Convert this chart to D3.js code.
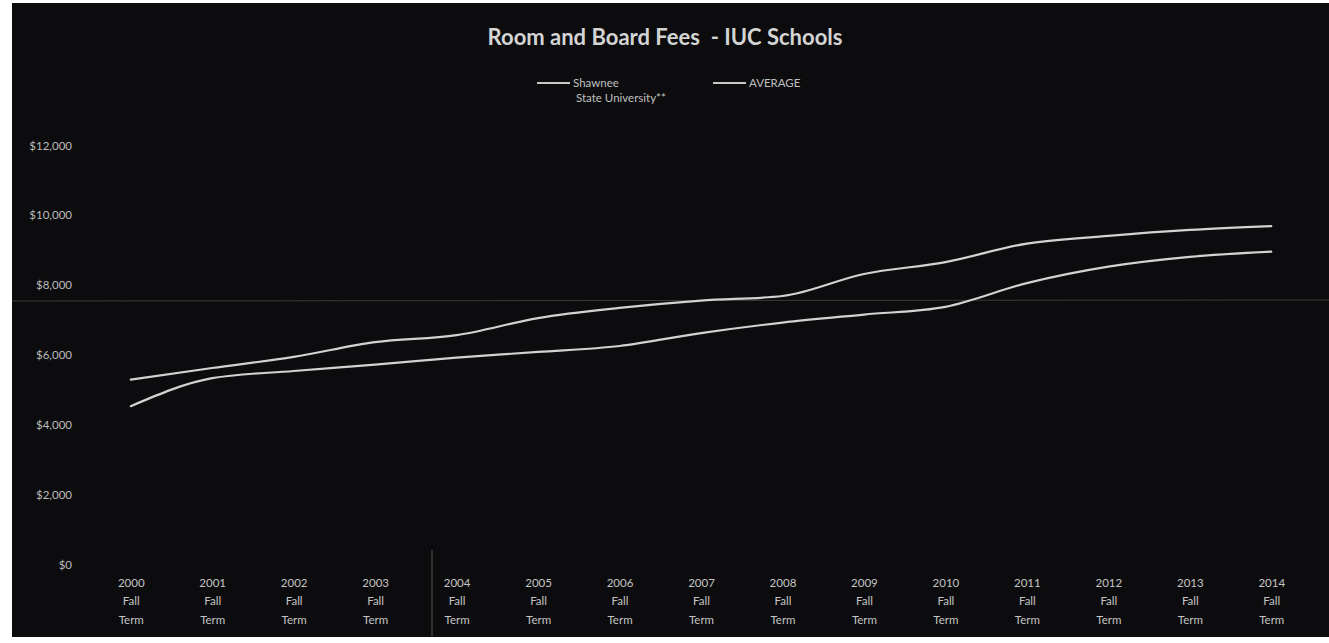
<!DOCTYPE html>
<html>
<head>
<meta charset="utf-8">
<script src="https://cdn.jsdelivr.net/npm/d3@7/dist/d3.min.js"></script>
<style>
  html, body { margin: 0; padding: 0; background: #ffffff; }
  svg { display: block; }
</style>
</head>
<body>
<svg id="chart" width="1329" height="643"></svg>
<script>
// ---- Data ----
const years = ["2000","2001","2002","2003","2004","2005","2006","2007","2008","2009","2010","2011","2012","2013","2014"];
const termLine1 = "Fall";
const termLine2 = "Term";
const shawneeValues = [4530, 5330, 5535, 5720, 5920, 6080, 6250, 6620, 6920, 7150, 7370, 8050, 8520, 8800, 8950];
const averageValues = [5290, 5620, 5940, 6360, 6560, 7050, 7340, 7550, 7680, 8310, 8650, 9180, 9400, 9570, 9680];
const yTicks = [0, 2000, 4000, 6000, 8000, 10000, 12000];
const seriesNames = ["Shawnee", "AVERAGE"];
const seriesSub = ["State University**", ""];
const titleText = "Room and Board Fees  - IUC Schools";

// ---- Layout ----
const W = 1329, H = 643;
const svg = d3.select("#chart");
const fontFam = "Lato, 'Open Sans', 'DejaVu Sans', sans-serif";

// panel (scanned dark background)
svg.append("rect").attr("x", 12).attr("y", 3).attr("width", W - 12).attr("height", 634)
  .attr("fill", "#0c0c0e");

const x = d3.scalePoint().domain(years).range([90, 1312]).padding(0.5);
const y = d3.scaleLinear().domain([0, 12000]).range([564.5, 145]);

// faint scan line artefacts
svg.append("line").attr("x1", 12).attr("x2", W).attr("y1", 301).attr("y2", 300)
  .attr("stroke", "#3a3a3a").attr("stroke-width", 1);
svg.append("line").attr("x1", 432).attr("x2", 432).attr("y1", 550).attr("y2", 636)
  .attr("stroke", "#555").attr("stroke-width", 1);

// title
svg.append("text").attr("x", 665).attr("y", 45)
  .attr("text-anchor", "middle").style("white-space", "pre")
  .attr("font-family", fontFam).attr("font-weight", "bold").attr("font-size", 22)
  .attr("fill", "#d4d4d4").text(titleText);

// y axis labels (no line)
const yAxis = d3.axisLeft(y).tickValues(yTicks)
  .tickFormat(d => "$" + d3.format(",")(d)).tickSize(0).tickPadding(0);
const gy = svg.append("g").attr("transform", "translate(72,0)").call(yAxis);
gy.select(".domain").remove();
gy.selectAll("text").attr("font-family", fontFam).attr("font-size", 11.5)
  .attr("fill", "#bcbcbc").attr("dy", "0.35em");

// x axis labels (3 lines)
const xAxis = d3.axisBottom(x).tickSize(0).tickPadding(0).tickFormat("");
const gx = svg.append("g").attr("transform", "translate(0,572)").call(xAxis);
gx.select(".domain").remove();
gx.selectAll(".tick").each(function(d) {
  const t = d3.select(this).append("text")
    .attr("font-family", fontFam).attr("font-size", 11.5)
    .attr("fill", "#c4c4c4").attr("text-anchor", "middle");
  t.append("tspan").attr("x", 0).attr("y", 15).text(d);
  t.append("tspan").attr("x", 0).attr("y", 33).text(termLine1);
  t.append("tspan").attr("x", 0).attr("y", 52).text(termLine2);
});

// lines
const line = d3.line().x((d, i) => x(years[i])).y(d => y(d)).curve(d3.curveMonotoneX);
[shawneeValues, averageValues].forEach(vals => {
  svg.append("path").datum(vals).attr("d", line)
    .attr("fill", "none").attr("stroke", "#d2d2d2").attr("stroke-width", 2.2)
    .attr("stroke-linejoin", "round").attr("stroke-linecap", "round");
});

// legend
const legendX = [537, 713];
seriesNames.forEach((name, i) => {
  const g = svg.append("g").attr("transform", `translate(${legendX[i]},83)`);
  g.append("line").attr("x1", 0).attr("x2", 33).attr("y1", 0).attr("y2", 0)
    .attr("stroke", "#c8c8c8").attr("stroke-width", 2);
  const t = g.append("text").attr("font-family", fontFam).attr("font-size", 11.5)
    .attr("fill", "#c0c0c0");
  t.append("tspan").attr("x", 36).attr("y", 4).text(name);
  if (seriesSub[i]) t.append("tspan").attr("x", 39).attr("y", 19).text(seriesSub[i]);
});
</script>
</body>
</html>
